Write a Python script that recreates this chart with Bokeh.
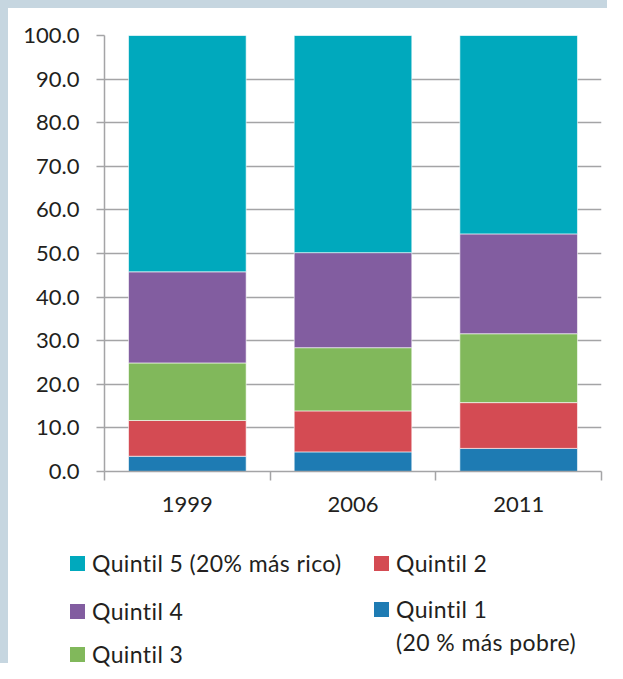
from bokeh.plotting import figure
from bokeh.layouts import row, column
from bokeh.models import (FixedTicker, Range1d, NumeralTickFormatter, Spacer, Div)
from bokeh.embed import file_html
from bokeh.resources import INLINE

years = ["1999", "2006", "2011"]
q1 = [3.5, 4.5, 5.3]
q2 = [8.2, 9.4, 10.5]
q3 = [13.2, 14.5, 15.8]
q4 = [20.9, 21.8, 22.9]
q5 = [54.2, 49.8, 45.5]
y_ticks = [0, 10, 20, 30, 40, 50, 60, 70, 80, 90, 100]

series = ["q1", "q2", "q3", "q4", "q5"]
labels = ["Quintil 1", "Quintil 2", "Quintil 3", "Quintil 4", "Quintil 5 (20% más rico)"]
q1_note = "(20 % más pobre)"
colors = ["#1e7bb3", "#d44b53", "#81b85b", "#825da0", "#00a9bd"]

xpos = [i + 0.5 for i in range(len(years))]
source = dict(x=xpos, q1=q1, q2=q2, q3=q3, q4=q4, q5=q5)

FONT = "Lato"
FS = "22px"
TXT = "#231f20"
GRID = "#a4a4a6"
BAND = "#c6d6e0"

p = figure(width=599, height=522, output_backend="svg", toolbar_location=None,
           x_range=Range1d(0, 3), y_range=Range1d(0, 100),
           min_border_left=96, min_border_right=6, min_border_top=27, min_border_bottom=59)
p.outline_line_color = None
p.background_fill_color = "white"
p.border_fill_color = "white"

rs = p.vbar_stack(series, x="x", width=0.71, color=colors, line_color="white",
                  line_width=0.6, source=source)

# y axis
p.yaxis.ticker = FixedTicker(ticks=y_ticks)
p.yaxis.formatter = NumeralTickFormatter(format="0.0")
p.yaxis.axis_line_color = GRID
p.yaxis.axis_line_width = 1.5
p.yaxis.major_tick_line_color = GRID
p.yaxis.major_tick_line_width = 1.5
p.yaxis.major_tick_out = 8
p.yaxis.major_tick_in = 0
p.yaxis.minor_tick_line_color = None
p.yaxis.major_label_text_font = FONT
p.yaxis.major_label_text_font_size = FS
p.yaxis.major_label_text_color = TXT
p.yaxis.major_label_standoff = 17

# x axis: labels centred on bars, tick marks between categories
p.xaxis.ticker = FixedTicker(ticks=xpos, minor_ticks=[0, 1, 2, 3])
p.xaxis.major_label_overrides = {x: y for x, y in zip(xpos, years)}
p.xaxis.axis_line_color = GRID
p.xaxis.axis_line_width = 1.5
p.xaxis.major_tick_line_color = None
p.xaxis.major_tick_out = 0
p.xaxis.major_tick_in = 0
p.xaxis.minor_tick_line_color = GRID
p.xaxis.minor_tick_line_width = 1.5
p.xaxis.minor_tick_out = 9
p.xaxis.minor_tick_in = 0
p.xaxis.major_label_text_font = FONT
p.xaxis.major_label_text_font_size = FS
p.xaxis.major_label_text_color = TXT
p.xaxis.major_label_standoff = 16

p.xgrid.grid_line_color = None
p.ygrid.ticker = FixedTicker(ticks=y_ticks)
p.ygrid.grid_line_color = GRID
p.ygrid.grid_line_width = 1.5

# legend (HTML block under the chart): two columns
def item(left, center_y, color, text):
    sq = ("" if color is None else
          f'<span style="display:inline-block;width:15px;height:15px;'
          f'background:{color};margin-right:7px;flex:none"></span>')
    return (f'<div style="position:absolute;left:{left}px;top:{center_y - 14}px;'
            f'height:28px;display:flex;align-items:center;white-space:nowrap">'
            f'{sq}<span>{text}</span></div>')

html = ('<div style="position:relative;width:599px;height:133px;'
        f'font-family:{FONT};font-size:23px;letter-spacing:0.4px;color:{TXT};line-height:28px">'
        + item(62, 33, colors[4], labels[4])
        + item(62, 81, colors[3], labels[3])
        + item(62, 124, colors[2], labels[2])
        + item(366, 33, colors[1], labels[1])
        + item(366, 79, colors[0], labels[0])
        + item(388, 112, None, q1_note)
        + '</div>')
legend_div = Div(text=html, width=599, height=133, margin=0)

left_band = Spacer(width=8, height=663, styles={"background-color": BAND})
top_band = Spacer(width=599, height=8, styles={"background-color": BAND})
layout = row(left_band, column(top_band, p, legend_div))

open("out.html", "w").write(file_html(layout, INLINE))
